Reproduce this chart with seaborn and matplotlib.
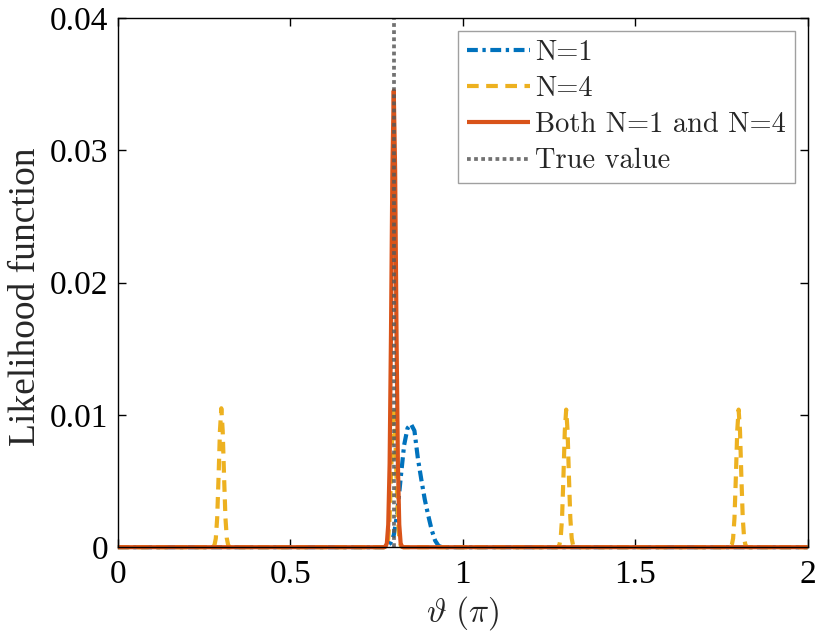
import pandas as pd
import matplotlib
matplotlib.use('Agg')
import matplotlib.pyplot as plt
import seaborn as sns

# Curvas (theta em unidades de pi)
n1_theta = [0.0, 0.77, 0.78, 0.79, 0.80, 0.81, 0.82, 0.83, 0.84, 0.85, 0.86,
            0.87, 0.88, 0.89, 0.90, 0.91, 0.92, 0.93, 0.94, 2.0]
n1_like = [0.0, 0.0, 0.0001, 0.0003, 0.0009, 0.0025, 0.0052, 0.0077, 0.0090,
           0.0093, 0.0088, 0.0067, 0.0051, 0.0036, 0.0024, 0.0013, 0.0005,
           0.0001, 0.0, 0.0]

n4_theta = [0.0,
            0.272, 0.276, 0.280, 0.284, 0.288, 0.292, 0.296, 0.300,
            0.304, 0.308, 0.312, 0.316, 0.320, 0.324, 0.328,
            0.772, 0.776, 0.780, 0.784, 0.788, 0.792, 0.796, 0.800,
            0.804, 0.808, 0.812, 0.816, 0.820, 0.824, 0.828,
            1.272, 1.276, 1.280, 1.284, 1.288, 1.292, 1.296, 1.300,
            1.304, 1.308, 1.312, 1.316, 1.320, 1.324, 1.328,
            1.772, 1.776, 1.780, 1.784, 1.788, 1.792, 1.796, 1.800,
            1.804, 1.808, 1.812, 1.816, 1.820, 1.824, 1.828,
            2.0]
n4_like = [0.0,
           0.0, 0.00002, 0.00014, 0.00066, 0.0022, 0.0053, 0.0088, 0.0105,
           0.0088, 0.0053, 0.0022, 0.00066, 0.00014, 0.00002, 0.0,
           0.0, 0.00002, 0.00014, 0.00066, 0.0022, 0.0053, 0.0088, 0.0105,
           0.0088, 0.0053, 0.0022, 0.00066, 0.00014, 0.00002, 0.0,
           0.0, 0.00002, 0.00014, 0.00066, 0.0022, 0.0053, 0.0088, 0.0104,
           0.0088, 0.0053, 0.0022, 0.00066, 0.00014, 0.00002, 0.0,
           0.0, 0.00002, 0.00014, 0.00066, 0.0022, 0.0053, 0.0088, 0.0104,
           0.0088, 0.0053, 0.0022, 0.00066, 0.00014, 0.00002, 0.0,
           0.0]

both_theta = [0.0, 0.772, 0.776, 0.780, 0.784, 0.788, 0.792, 0.796, 0.800,
              0.804, 0.808, 0.812, 0.816, 0.820, 0.824, 0.828, 2.0]
both_like = [0.0, 0.0, 0.00004, 0.0003, 0.0017, 0.0063, 0.0162, 0.0285, 0.0345,
             0.0285, 0.0162, 0.0063, 0.0017, 0.0003, 0.00004, 0.0, 0.0]

true_value = 0.8

x_ticks = [0, 0.5, 1, 1.5, 2]
x_tick_labels = ['0', '0.5', '1', '1.5', '2']
y_ticks = [0, 0.01, 0.02, 0.03, 0.04]
y_tick_labels = ['0', '0.01', '0.02', '0.03', '0.04']

sns.set_style('ticks')
plt.rcParams['font.family'] = ['Liberation Serif', 'DejaVu Serif']
plt.rcParams['mathtext.fontset'] = 'cm'
plt.rcParams['axes.linewidth'] = 1.0

cor_azul = '#0072BD'
cor_amarelo = '#EDB120'
cor_laranja = '#D95319'
cor_cinza = '#595959'

df_n1 = pd.DataFrame({'theta': n1_theta, 'like': n1_like})
df_n4 = pd.DataFrame({'theta': n4_theta, 'like': n4_like})
df_both = pd.DataFrame({'theta': both_theta, 'like': both_like})

fig, ax = plt.subplots(figsize=(8.3, 6.4), dpi=100)
fig.subplots_adjust(left=0.142, right=0.973, top=0.972, bottom=0.145)

lw = 3.0
sns.lineplot(data=df_n1, x='theta', y='like', ax=ax, color=cor_azul, lw=lw,
             estimator=None, sort=False, label='N=1')
ax.lines[-1].set_dashes([2.6, 1.1, 0.8, 1.1])
sns.lineplot(data=df_n4, x='theta', y='like', ax=ax, color=cor_amarelo, lw=lw,
             estimator=None, sort=False, label='N=4')
ax.lines[-1].set_dashes([2.8, 1.8])
sns.lineplot(data=df_both, x='theta', y='like', ax=ax, color=cor_laranja, lw=lw,
             estimator=None, sort=False, label='Both N=1 and N=4')
ax.axvline(true_value, color=cor_cinza, lw=lw * 0.9, alpha=0.85,
           dashes=[1.0, 0.9], label='True value')

for ln in ax.lines:
    ln.set_clip_on(False)
    ln.set_solid_capstyle('butt')
    ln.set_dash_capstyle('butt')

ax.set_xlim(0, 2)
ax.set_ylim(0, 0.04)
ax.set_xticks(x_ticks)
ax.set_xticklabels(x_tick_labels)
ax.set_yticks(y_ticks)
ax.set_yticklabels(y_tick_labels)
ax.tick_params(direction='in', length=6, width=1.0, top=True, right=True,
               labelsize=24, colors='black')
ax.tick_params(axis='x', pad=9)
ax.tick_params(axis='y', pad=7)
for s in ax.spines.values():
    s.set_visible(True)
    s.set_color('black')

ax.set_xlabel(r'$\vartheta\ (\pi)$', fontsize=24, labelpad=3)
ax.set_ylabel('Likelihood function', fontsize=27)
ax.yaxis.set_label_coords(-0.108, 0.473)

leg = ax.legend(loc='upper right', prop={'family': 'cmr10', 'size': 20.5},
                frameon=True, fancybox=False, handlelength=2.2,
                handletextpad=0.2, borderpad=0.3, labelspacing=0.35,
                borderaxespad=0.45)
leg.get_frame().set_edgecolor('#888888')
leg.get_frame().set_linewidth(1.0)

plt.savefig('out.png', dpi=100)
